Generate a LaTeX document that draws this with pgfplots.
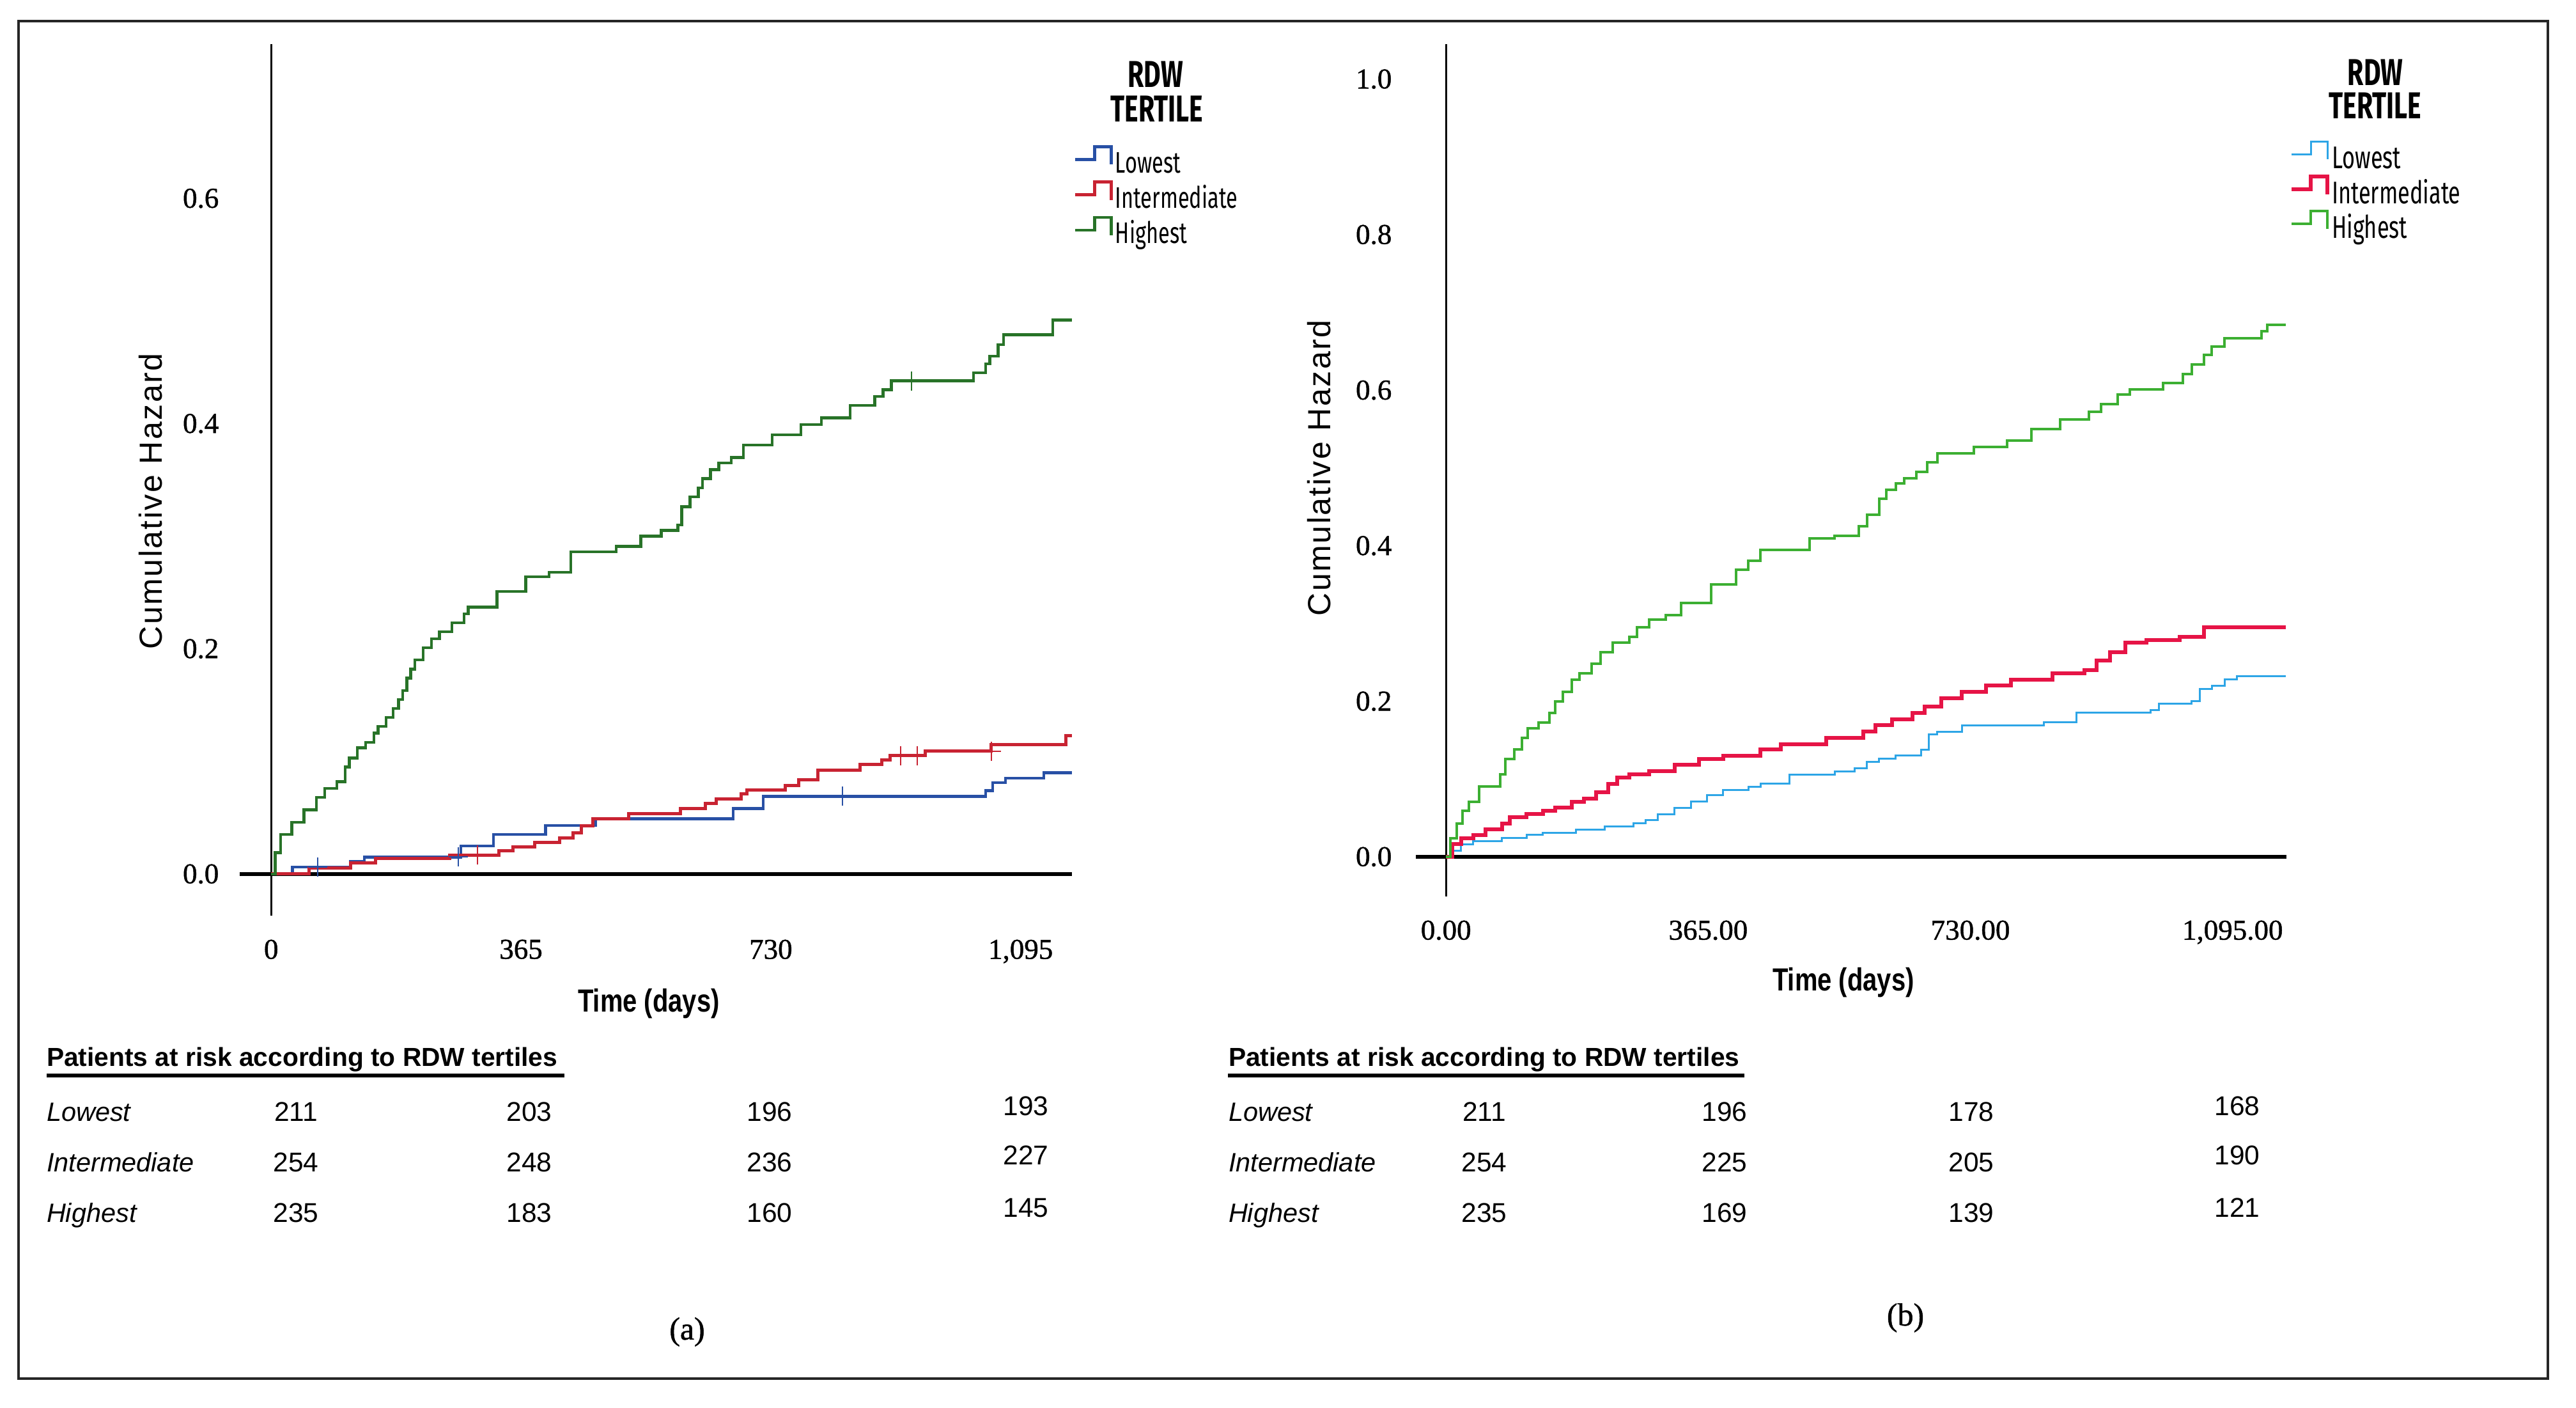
\documentclass[border=0pt]{standalone}
\usepackage{fontspec}
\setmainfont{Liberation Serif}
\usepackage{pgfplots}
\pgfplotsset{compat=1.18}
\newfontfamily\legfont[FakeStretch=0.7]{Fira Sans}
\newfontfamily\hazfont[LetterSpace=5]{Liberation Sans}
\newfontfamily\timefont[FakeStretch=0.8]{Liberation Sans}
\newfontfamily\tabfont{Liberation Sans}
\newfontfamily\tickfont[FakeBold=1]{Liberation Serif}

\definecolor{lowL}{RGB}{40,80,165}
\definecolor{intL}{RGB}{200,35,50}
\definecolor{higL}{RGB}{40,115,40}
\definecolor{lowR}{RGB}{45,165,230}
\definecolor{intR}{RGB}{230,20,70}
\definecolor{higR}{RGB}{60,175,50}

% cumulative hazard, left panel (a)
\pgfplotstableread{
t h
0 0
6 0.019
14 0.035
30 0.046
48 0.057
66 0.068
78 0.076
96 0.082
108 0.095
114 0.103
126 0.112
138 0.117
150 0.125
156 0.131
168 0.139
178 0.147
186 0.155
192 0.163
198 0.174
204 0.182
210 0.190
222 0.201
234 0.209
246 0.215
264 0.223
282 0.231
288 0.237
330 0.251
372 0.264
406 0.268
438 0.286
504 0.291
540 0.300
570 0.305
594 0.310
600 0.326
612 0.335
624 0.343
630 0.351
642 0.359
654 0.365
672 0.370
690 0.381
732 0.390
774 0.399
804 0.405
846 0.416
882 0.424
894 0.430
906 0.438
1026 0.445
1044 0.453
1050 0.460
1062 0.470
1070 0.479
1142 0.492
1170 0.492
}\highA
\pgfplotstableread{
t h
0 0
31 0.006
116 0.011
136 0.015
277 0.025
325 0.035
401 0.043
474 0.049
675 0.058
719 0.069
1044 0.074
1054 0.081
1073 0.085
1129 0.090
1170 0.090
}\lowA
\pgfplotstableread{
t h
0 0
55 0.0055
116 0.010
152 0.014
261 0.0167
333 0.0205
353 0.0243
385 0.028
421 0.0318
441 0.0365
453 0.043
470 0.049
522 0.0534
598 0.058
634 0.0628
650 0.0666
687 0.0713
695 0.0747
751 0.0788
771 0.0835
799 0.092
860 0.0972
892 0.101
904 0.105
956 0.109
1052 0.115
1161 0.123
1170 0.123
}\intA

% right panel (b)
\pgfplotstableread{
t h
0 0
6 0.024
15 0.043
23 0.059
32 0.071
46 0.090
75 0.106
83 0.126
95 0.138
106 0.153
114 0.165
129 0.173
144 0.185
152 0.200
163 0.212
175 0.228
186 0.236
203 0.248
215 0.263
232 0.275
255 0.283
266 0.295
283 0.305
306 0.311
327 0.326
369 0.350
404 0.369
421 0.381
438 0.395
506 0.409
541 0.413
575 0.425
586 0.440
603 0.460
613 0.472
626 0.480
638 0.487
655 0.495
670 0.507
684 0.519
735 0.527
781 0.535
815 0.550
855 0.562
895 0.572
912 0.582
935 0.594
952 0.601
998 0.609
1026 0.621
1038 0.633
1055 0.645
1066 0.656
1084 0.667
1135 0.676
1143 0.684
1169 0.684
}\highB
\pgfplotstableread{
t h
0 0
9 0.016
21 0.024
38 0.028
55 0.035
78 0.043
89 0.051
112 0.055
135 0.059
152 0.063
175 0.071
192 0.075
209 0.083
226 0.094
238 0.102
255 0.106
283 0.110
318 0.118
352 0.126
386 0.130
438 0.138
466 0.145
529 0.153
581 0.161
598 0.169
621 0.177
649 0.185
666 0.193
689 0.204
718 0.212
752 0.220
786 0.228
844 0.236
889 0.240
906 0.252
924 0.263
946 0.275
975 0.279
1021 0.283
1055 0.295
1169 0.295
}\intB
\pgfplotstableread{
t h
0 0
9 0.008
21 0.016
38 0.020
78 0.024
112 0.028
135 0.031
181 0.035
221 0.039
261 0.043
278 0.047
295 0.055
318 0.063
341 0.071
363 0.079
386 0.086
421 0.090
438 0.094
478 0.106
541 0.110
569 0.114
586 0.122
603 0.126
626 0.130
661 0.138
672 0.157
684 0.161
718 0.169
832 0.173
878 0.185
981 0.189
992 0.197
1038 0.200
1049 0.216
1066 0.220
1084 0.228
1101 0.232
1169 0.232
}\lowB

\pgfplotsset{
  kmaxis/.style={
    scale only axis, anchor=south west,
    axis line style={draw=none},
    major tick length=0pt, tick style={draw=none},
    ticklabel style={font=\tickfont\fontsize{9}{10}\selectfont},
    xticklabel style={yshift=-4pt},
    legend cell align=left,
    legend style={draw=none, fill=none, inner sep=0pt, anchor=north west,
      font=\legfont\fontsize{9.3}{10}\selectfont,
      nodes={inner sep=0.8pt, text height=6.8pt, text depth=1.6pt}},
    legend image code/.code={
      \draw[##1] (0pt,1.6pt) -- (6pt,1.6pt) -- (6pt,5.6pt) -- (11.2pt,5.6pt) -- (11.2pt,0pt);},
  },
}

\begin{document}
\begin{tikzpicture}
\path[use as bounding box, fill=white] (0pt,0pt) rectangle (806pt,440.4pt);
\draw[line width=0.9pt, black!85] (5.8pt,9.2pt) rectangle (797.2pt,433.8pt);

% ---------- (a)
\begin{axis}[kmaxis, at={(75pt,154pt)}, width=260.4pt, height=272.6pt,
  xmin=-46, xmax=1170, ymin=-0.037, ymax=0.737,
  xtick={0,365,730,1095}, xticklabels={0,365,730,{1,095}},
  ytick={0,0.2,0.4,0.6}, yticklabels={0.0,0.2,0.4,0.6},
  yticklabel style={xshift=-3pt},
  legend style={at={(1.0015,0.8848)}}]
\draw[line width=1.2pt] (axis cs:-46,0) -- (axis cs:1170,0);
\draw[line width=0.6pt] (axis cs:0,-0.037) -- (axis cs:0,0.737);
\addplot[const plot, lowL, line width=0.9pt] table[x=t,y=h] {\lowA};
\addplot[const plot, intL, line width=1pt] table[x=t,y=h] {\intA};
\addplot[const plot, higL, line width=0.9pt] table[x=t,y=h] {\highA};
\legend{Lowest,Intermediate,Highest}
\addplot[only marks, mark=+, mark size=3pt, lowL, thin, forget plot] coordinates {(68,0.006) (273,0.015) (835,0.069)};
\addplot[only marks, mark=+, mark size=3pt, intL, thin, forget plot] coordinates {(301,0.0167) (920,0.105) (944,0.105) (1052,0.109)};
\addplot[only marks, mark=+, mark size=3pt, higL, thin, forget plot] coordinates {(936,0.438)};
\end{axis}

% ---------- (b)
\begin{axis}[kmaxis, at={(443pt,160pt)}, width=272.4pt, height=266.6pt,
  xmin=-42, xmax=1170, ymin=-0.051, ymax=1.045,
  xtick={0,365,730,1095}, xticklabels={0.00,365.00,730.00,{1,095.00}},
  ytick={0,0.2,0.4,0.6,0.8,1.0}, yticklabels={0.0,0.2,0.4,0.6,0.8,1.0},
  yticklabel style={xshift=-4pt},
  legend style={at={(1.003,0.8875)}, font=\legfont\fontsize{9.8}{10}\selectfont,
    nodes={inner sep=0.8pt, text height=6.8pt, text depth=1.2pt}}]
\draw[line width=1.2pt] (axis cs:-42,0) -- (axis cs:1170,0);
\draw[line width=0.6pt] (axis cs:0,-0.051) -- (axis cs:0,1.045);
\addplot[const plot, lowR, line width=0.6pt] table[x=t,y=h] {\lowB};
\addplot[const plot, intR, line width=1.2pt] table[x=t,y=h] {\intB};
\addplot[const plot, higR, line width=0.8pt] table[x=t,y=h] {\highB};
\legend{Lowest,Intermediate,Highest}
\end{axis}

% legend titles
\begin{scope}[font=\legfont\bfseries\fontsize{11.7}{12}\selectfont]
\node[anchor=base] at (361.6pt,413pt) {RDW};
\node[anchor=base] at (362pt,402.2pt) {TERTILE};
\node[anchor=base] at (743.2pt,413.6pt) {RDW};
\node[anchor=base] at (743.2pt,403.2pt) {TERTILE};
\end{scope}

% axis titles
\node[rotate=90, font=\hazfont\fontsize{10}{12}\selectfont] at (47.2pt,283.6pt) {Cumulative Hazard};
\node[rotate=90, font=\hazfont\fontsize{10}{12}\selectfont] at (412.8pt,294pt) {Cumulative Hazard};
\node[font=\timefont\bfseries\fontsize{10}{12}\selectfont] at (203pt,126.4pt) {Time (days)};
\node[font=\timefont\bfseries\fontsize{10}{12}\selectfont] at (576.8pt,133pt) {Time (days)};

% patients at risk
\begin{scope}[font=\tabfont\fontsize{8.5}{10}\selectfont, inner sep=0pt]
\foreach \x/\lab in {14.4/a, 384.2/b}{
  \node[anchor=base west, font=\tabfont\bfseries\fontsize{8.15}{10}\selectfont] at (\x pt,106.8pt) {Patients at risk according to RDW tertiles};
  \node[anchor=base west, font=\tabfont\itshape\fontsize{8.3}{10}\selectfont] at (\x pt,89.6pt) {Lowest};
  \node[anchor=base west, font=\tabfont\itshape\fontsize{8.3}{10}\selectfont] at (\x pt,73.8pt) {Intermediate};
  \node[anchor=base west, font=\tabfont\itshape\fontsize{8.3}{10}\selectfont] at (\x pt,58pt) {Highest};
}
\draw[line width=1.1pt] (14.6pt,104pt) -- (176.6pt,104pt);
\draw[line width=1.1pt] (384.2pt,104pt) -- (545.8pt,104pt);
% panel (a) numbers
\node[anchor=base] at (92.6pt,89.6pt) {211};
\node[anchor=base] at (165.6pt,89.6pt) {203};
\node[anchor=base] at (240.8pt,89.6pt) {196};
\node[anchor=base] at (321pt,91.4pt) {193};
\node[anchor=base] at (92.6pt,73.8pt) {254};
\node[anchor=base] at (165.6pt,73.8pt) {248};
\node[anchor=base] at (240.8pt,73.8pt) {236};
\node[anchor=base] at (321pt,76pt) {227};
\node[anchor=base] at (92.6pt,58pt) {235};
\node[anchor=base] at (165.6pt,58pt) {183};
\node[anchor=base] at (240.8pt,58pt) {160};
\node[anchor=base] at (321pt,59.6pt) {145};
% panel (b) numbers
\node[anchor=base] at (464.4pt,89.6pt) {211};
\node[anchor=base] at (539.6pt,89.6pt) {196};
\node[anchor=base] at (616.8pt,89.6pt) {178};
\node[anchor=base] at (700pt,91.4pt) {168};
\node[anchor=base] at (464.4pt,73.8pt) {254};
\node[anchor=base] at (539.6pt,73.8pt) {225};
\node[anchor=base] at (616.8pt,73.8pt) {205};
\node[anchor=base] at (700pt,76pt) {190};
\node[anchor=base] at (464.4pt,58pt) {235};
\node[anchor=base] at (539.6pt,58pt) {169};
\node[anchor=base] at (616.8pt,58pt) {139};
\node[anchor=base] at (700pt,59.6pt) {121};
\end{scope}

\node[font=\tickfont\fontsize{10}{12}\selectfont] at (215pt,23.8pt) {(a)};
\node[font=\tickfont\fontsize{10}{12}\selectfont] at (596.2pt,28.2pt) {(b)};
\end{tikzpicture}
\end{document}
